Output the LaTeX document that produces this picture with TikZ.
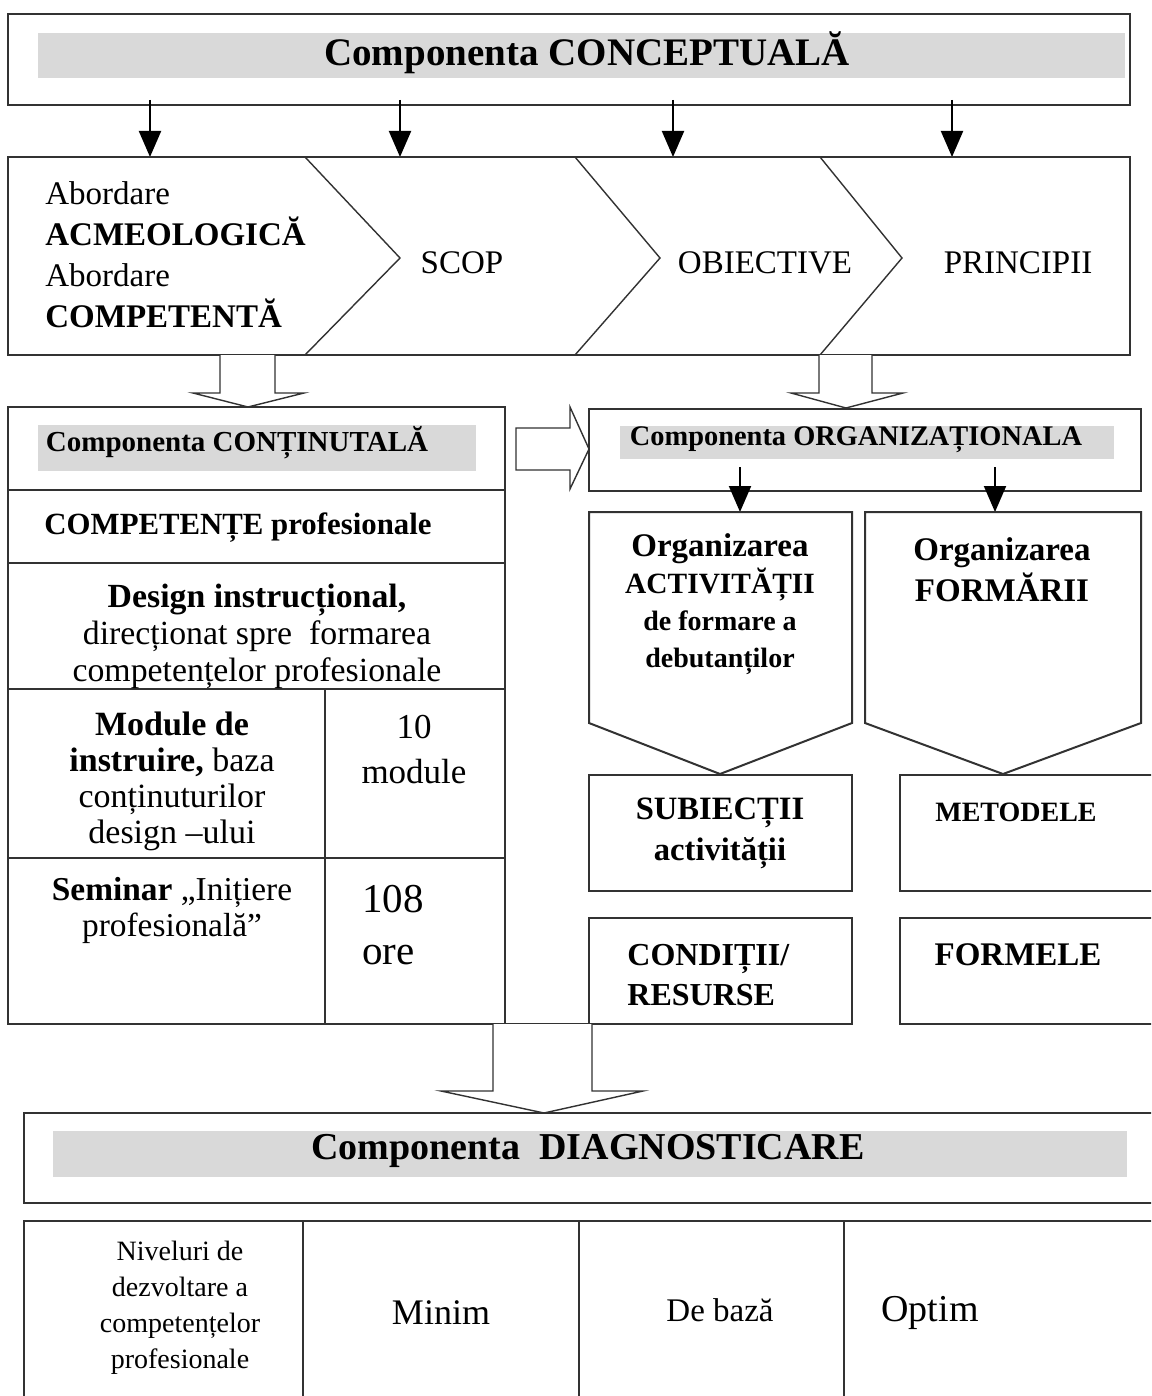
\documentclass[tikz,border=0pt]{standalone}
\usepackage{fontspec}
\setmainfont{Liberation Serif}
\usetikzlibrary{arrows.meta}
\definecolor{bandgray}{RGB}{217,217,217}
\definecolor{edge}{RGB}{50,50,50}
\newcommand{\sz}[2]{\fontsize{#1}{#2}\selectfont}

\begin{document}
\begin{tikzpicture}[x=0.5pt, y=-0.5pt,
  frame/.style={draw=edge, line width=1pt},
  thin/.style={draw=edge, line width=0.7pt},
  band/.style={fill=bandgray},
  lbl/.style={inner sep=0pt, align=center},
  down/.style={-{Triangle[width=11pt,length=13pt]}, line width=1pt},
  hollow/.style={thin, fill=white}]

  \clip (0,0) rectangle (1151,1396);
  \fill[white] (0,0) rectangle (1151,1396);

  %Conceptual
  \draw[frame] (8,14) rectangle (1130,105);
  \fill[band] (38,33) rectangle (1125,78);
  \node[lbl, font=\bfseries\sz{19.5}{23}] (concept) at (587,53) {Componenta CONCEPTUALĂ};

  \foreach \x [count=\i] in {150,400,673,952}{
    \coordinate (from\i) at (\x,100);
    \coordinate (to\i) at (\x,157);
    \draw[down] (from\i) -- (to\i);
  }

  %Chevrons
  \draw[frame] (8,157) rectangle (1130,355);
  \draw[thin] (305,157) -- (400,258) -- (305,355)
              (575,157) -- (660,258) -- (575,355)
              (820,157) -- (902,258) -- (820,355);
  \node[lbl, anchor=west, align=left, font=\sz{16.5}{20.5}] (abord) at (45,255)
    {Abordare\\\textbf{ACMEOLOGICĂ}\\Abordare\\\textbf{COMPETENTĂ}};
  \node[lbl, font=\sz{16.5}{20}] (scop) at (462,263) {SCOP};
  \node[lbl, font=\sz{16.5}{20}] (obiect) at (765,263) {OBIECTIVE};
  \node[lbl, font=\sz{16.5}{20}] (princ) at (1018,263) {PRINCIPII};

  \draw[hollow] (220,355) -- (220,393) -- (193,393) -- (248,407) -- (304,393) -- (275,393) -- (275,355);
  \draw[hollow] (819,355) -- (819,393) -- (791,393) -- (846,408) -- (903,393) -- (872,393) -- (872,355);

  %Content
  \draw[frame] (8,407) rectangle (505,1024);
  \fill[band] (38,425) rectangle (476,471);
  \draw[frame] (8,490) -- (505,490) (8,563) -- (505,563) (8,689) -- (505,689)
               (8,858) -- (505,858) (325,689) -- (325,1024) (505,1024) -- (589,1024);
  \node[lbl, font=\bfseries\sz{14.5}{17}] (contin) at (237,443) {Componenta CONȚINUTALĂ};
  \node[lbl, font=\bfseries\sz{15.4}{18}] (compet) at (238,528) {COMPETENȚE profesionale};
  \node[lbl, font=\sz{16.9}{18.5}] (design) at (257,636)
    {\textbf{Design instrucțional,}\\direcționat spre\ \ formarea\\competențelor profesionale};
  \node[lbl, font=\sz{17}{18}] (module) at (172,781)
    {\textbf{Module de}\\\textbf{instruire,} baza\\conținuturilor\\design –ului};
  \node[lbl, font=\sz{17.5}{22.5}] (nrmod) at (414,750) {10\\module};
  \node[lbl, font=\sz{16.7}{18}] (semin) at (172,910) {\textbf{Seminar} „Inițiere\\profesională”};
  \node[lbl, anchor=west, align=left, font=\sz{20.5}{26}] (ore) at (362,925) {108\\ore};

  \draw[hollow] (589,449) -- (570,407) -- (570,428) -- (516,428) -- (516,470) -- (570,470) -- (570,489) -- cycle;

  %Organizational
  \draw[frame] (589,409) rectangle (1141,491);
  \fill[band] (620,426) rectangle (1114,459);
  \node[lbl, font=\bfseries\sz{14.2}{17}] (organiz) at (856,440) {Componenta ORGANIZAȚIONALA};
  \coordinate (o1) at (740,467);
  \coordinate (a1) at (740,512);
  \coordinate (o2) at (995,467);
  \coordinate (a2) at (995,512);
  \draw[down] (o1) -- (a1);
  \draw[down] (o2) -- (a2);

  \draw[frame] (589,512) -- (852,512) -- (852,723) -- (720,774) -- (589,723) -- cycle;
  \draw[frame] (865,512) -- (1141,512) -- (1141,723) -- (1003,774) -- (865,723) -- cycle;
  \node[lbl, font=\bfseries\sz{16.5}{18.5}] (activ) at (720,604)
    {Organizarea\\{\sz{14.7}{18.5}ACTIVITĂȚII}\\{\sz{14}{18.5}de formare a}\\{\sz{14}{18.5}debutanților}};
  \node[lbl, font=\bfseries\sz{16.5}{20.5}] (format) at (1002,570) {Organizarea\\FORMĂRII};

  \draw[frame] (589,775) rectangle (852,891);
  \draw[frame] (900,775) rectangle (1165,891);
  \draw[frame] (589,918) rectangle (852,1024);
  \draw[frame] (900,918) rectangle (1165,1024);
  \node[lbl, font=\bfseries\sz{16.3}{20.5}] (subj) at (720,833) {SUBIECȚII\\activității};
  \node[lbl, font=\bfseries\sz{14}{17}] (metod) at (1016,812) {METODELE};
  \node[lbl, anchor=west, align=left, font=\bfseries\sz{16}{20}] (cond) at (627,975) {CONDIȚII/\\RESURSE};
  \node[lbl, font=\bfseries\sz{16.5}{20}] (forme) at (1018,955) {FORMELE};

  \draw[hollow] (493,1024) -- (493,1091) -- (441,1091) -- (544,1113) -- (643,1091) -- (592,1091) -- (592,1024);

  %Diagnostic
  \draw[frame] (24,1113) rectangle (1165,1203);
  \fill[band] (53,1131) rectangle (1127,1177);
  \node[lbl, font=\bfseries\sz{19}{22}] (diagn) at (588,1151) {Componenta\ \ DIAGNOSTICARE};

  \draw[frame] (24,1221) rectangle (1165,1410);
  \draw[frame] (303,1221) -- (303,1400) (579,1221) -- (579,1400) (844,1221) -- (844,1400);
  \node[lbl, font=\sz{14}{18}] (nivel) at (180,1308)
    {Niveluri de\\dezvoltare a\\competențelor\\profesionale};
  \node[lbl, font=\sz{18}{20}] (minim) at (441,1313) {Minim};
  \node[lbl, font=\sz{16.5}{20}] (debaza) at (720,1310) {De bază};
  \node[lbl, font=\sz{19}{20}] (optim) at (930,1313) {Optim};
\end{tikzpicture}
\end{document}
